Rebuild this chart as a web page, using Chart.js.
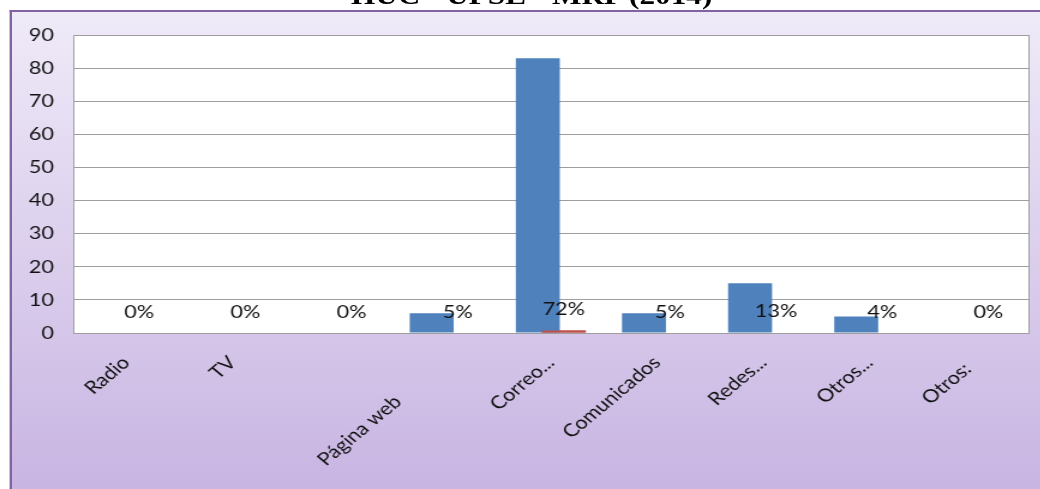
<!DOCTYPE html>
<html>
<head>
<meta charset="utf-8">
<script src="https://cdn.jsdelivr.net/npm/chart.js@4.4.0/dist/chart.umd.min.js"></script>
<style>
  html, body { margin: 0; padding: 0; background: #fff; overflow: hidden; }
  /* the whole sheet is drawn narrow and stretched sideways */
  #page { position: absolute; left: 0; top: 0; width: 867px; height: 489px; transform: scaleX(1.2); transform-origin: 0 0; }
  #title { position: absolute; left: 443px; top: -17px; transform: translateX(-50%); white-space: nowrap;
           font: bold 26px/26px "Liberation Serif", serif; color: #000; }
  #frame { position: absolute; left: 8px; top: 10px; width: 880px; height: 500px;
           border-left: 2px solid #8064A2; border-top: 2px solid #8064A2;
           background: linear-gradient(#EFEAF8, #C6B2E1); }
  #wrap { position: absolute; left: 0; top: 0; width: 867px; height: 489px; }
</style>
</head>
<body>
<div id="page">
  <div id="title">HUC - UPSE - MRP (2014)</div>
  <div id="frame"></div>
  <div id="wrap"><canvas id="medios-chart"></canvas></div>
</div>
<script>
const categories = ['Radio', 'TV', '', 'Página web', 'Correo...', 'Comunicados', 'Redes...', 'Otros...', 'Otros:'];
const counts = [0, 0, 0, 6, 83, 6, 15, 5, 0];
const shares = [0, 0, 0, 0.05, 0.72, 0.05, 0.13, 0.04, 0];
const yTicks = [0, 10, 20, 30, 40, 50, 60, 70, 80, 90];

// trailing blanks some labels carry in the sheet
const labelTrail = [0, 0, 0, 12, 0, 0, 0, 0, 2];

const FONT = 'Lato, "Open Sans", sans-serif';

// bars thinner than a pixel are left out, like the sheet does
function redFill(ctx) {
    const y = ctx.chart.scales.y;
    const v = shares[ctx.dataIndex] || 0;
    const h = y.getPixelForValue(0) - y.getPixelForValue(v);
    return h < 1 ? 'rgba(0,0,0,0)' : '#C0504D';
}

const plotBox = {
    id: 'plotBox',
    beforeDraw(chart) {
        const {ctx, chartArea: a} = chart;
        ctx.save();
        ctx.fillStyle = '#fff';
        ctx.fillRect(a.left, a.top, a.width, a.height);
        ctx.restore();
    },
    beforeDatasetsDraw(chart) {
        const {ctx, chartArea: a} = chart;
        ctx.save();
        ctx.strokeStyle = '#9E9E9E';
        ctx.lineWidth = 1;
        ctx.strokeRect(Math.round(a.left) + 0.5, Math.round(a.top) + 0.5, Math.round(a.width), Math.round(a.height));
        ctx.restore();
    },
    afterDatasetsDraw(chart) {
        const ctx = chart.ctx;
        const meta = chart.getDatasetMeta(1);
        // red bars sit over the blue ones
        meta.data.forEach(el => el.draw(ctx));
        ctx.save();
        ctx.font = '18px ' + FONT;
        ctx.fillStyle = '#111';
        ctx.textAlign = 'center';
        ctx.textBaseline = 'middle';
        meta.data.forEach((el, i) => {
            ctx.fillText(Math.round(shares[i] * 100) + '%', el.x, el.y - 21);
        });
        ctx.restore();
    }
};

let mediosChart = new Chart(document.getElementById("medios-chart").getContext("2d"), {
    type: 'bar',
    data: {
        labels: categories,
        datasets: [{
            label: 'Encuestados',
            data: counts,
            backgroundColor: '#4F81BD',
            categoryPercentage: 0.49,
            barPercentage: 1.69
        },
        {
            label: 'Porcentaje',
            data: shares,
            backgroundColor: redFill,
            categoryPercentage: 0.49,
            barPercentage: 1.69
        }]
    },
    options: {
        responsive: true,
        maintainAspectRatio: false,
        animation: false,
        layout: { padding: { left: 0, top: 35, right: 10, bottom: 0 } },
        plugins: {
            legend: { display: false },
            tooltip: { enabled: false }
        },
        scales: {
            x: {
                grid: { display: false, drawTicks: false },
                border: { display: false },
                ticks: {
                    minRotation: 45,
                    maxRotation: 45,
                    autoSkip: false,
                    padding: 19,
                    color: '#111',
                    font: { family: FONT, size: 18 },
                    callback: (v, i) => categories[i] + ' '.repeat(labelTrail[i])
                },
                afterFit(scale) { scale.height = 156; }
            },
            y: {
                min: 0,
                max: 90,
                afterBuildTicks(scale) { scale.ticks = yTicks.map(v => ({ value: v })); },
                grid: { color: '#9E9E9E', drawTicks: false },
                border: { display: false },
                ticks: {
                    padding: 16,
                    color: '#111',
                    font: { family: FONT, size: 18 }
                },
                afterFit(scale) { scale.width = 61; }
            }
        }
    },
    plugins: [plotBox]
});
</script>
</body>
</html>
